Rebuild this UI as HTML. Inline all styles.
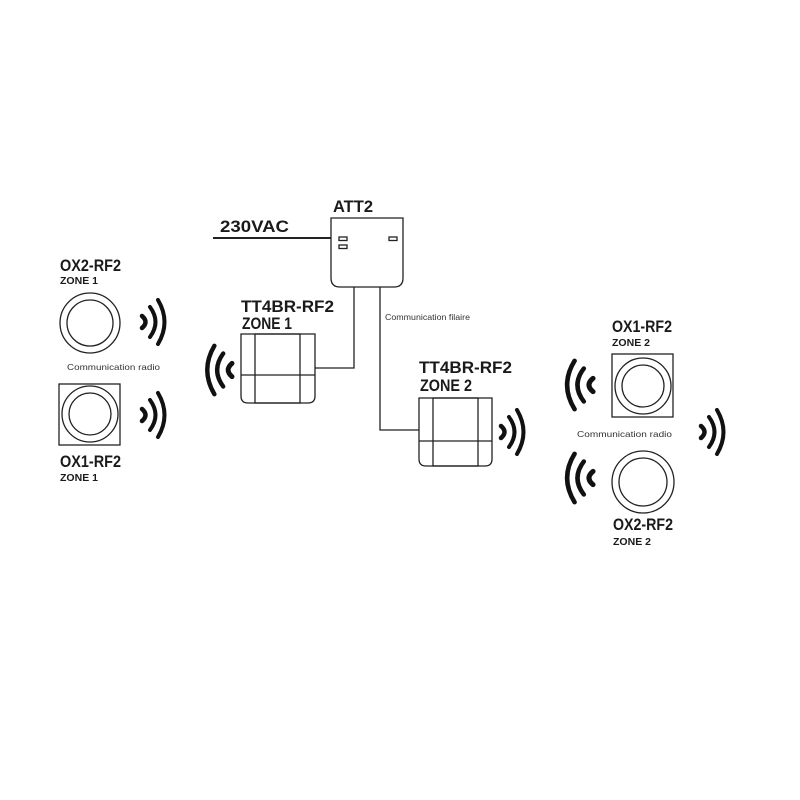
<!DOCTYPE html>
<html><head><meta charset="utf-8"><style>
html,body{margin:0;padding:0;background:#fff;width:800px;height:800px;overflow:hidden}
svg{display:block}
text{font-family:"Liberation Sans",sans-serif;fill:#1a1a1a}
.t{font-weight:bold;font-size:17px}
.z{font-weight:bold;font-size:10px}
.s{font-size:8.5px;fill:#333}
</style></head><body>
<svg width="800" height="800" viewBox="0 0 800 800" xmlns="http://www.w3.org/2000/svg">
<defs>
<g id="w" fill="none" stroke="#111" stroke-linecap="round">
<path d="M0,-6 Q7,0 0,6" stroke-width="4.5"/>
<path d="M8,-15 Q19,0 8,15" stroke-width="4"/>
<path d="M16,-22 Q29,0 16,22" stroke-width="4"/>
</g>
</defs>
<g fill="none" stroke="#222" stroke-width="1.3">
<!-- 230VAC line -->
<line x1="213" y1="238" x2="331" y2="238" stroke-width="2"/>
<!-- ATT2 box -->
<path d="M331,218 H403 V278 Q403,287 394,287 H340 Q331,287 331,278 Z"/>
<rect x="339" y="237" width="8" height="3.5"/>
<rect x="339" y="245" width="8" height="3.5"/>
<rect x="389" y="237" width="8" height="3.5"/>
<!-- wires -->
<polyline points="354,287 354,368 315,368"/>
<polyline points="380,287 380,430 419,430"/>
<!-- TT4BR zone1 -->
<path d="M241,334 H315 V396 Q315,403 308,403 H248 Q241,403 241,396 Z"/>
<rect x="255" y="334" width="45" height="69"/>
<line x1="241" y1="375" x2="315" y2="375"/>
<!-- TT4BR zone2 -->
<path d="M419,398 H492 V459 Q492,466 485,466 H426 Q419,466 419,459 Z"/>
<rect x="433" y="398" width="45" height="68"/>
<line x1="419" y1="441" x2="492" y2="441"/>
<!-- OX2 zone1 -->
<circle cx="90" cy="323" r="30"/><circle cx="90" cy="323" r="23"/>
<!-- OX1 zone1 -->
<rect x="59" y="384" width="61" height="61"/>
<circle cx="90" cy="414" r="28"/><circle cx="90" cy="414" r="21"/>
<!-- OX1 zone2 -->
<rect x="612" y="354" width="61" height="63"/>
<circle cx="643" cy="386" r="28"/><circle cx="643" cy="386" r="21"/>
<!-- OX2 zone2 -->
<circle cx="643" cy="482" r="31"/><circle cx="643" cy="482" r="24"/>
</g>
<!-- waves -->
<use href="#w" transform="translate(142,322)"/>
<use href="#w" transform="translate(142,415)"/>
<use href="#w" transform="translate(501,432)"/>
<use href="#w" transform="translate(701,432)"/>
<use href="#w" transform="translate(232,370) scale(-1.1,1.1)"/>
<use href="#w" transform="translate(593,385) scale(-1.15,1.1)"/>
<use href="#w" transform="translate(593,478) scale(-1.15,1.1)"/>
<!-- labels -->
<text class="t" x="220" y="232" font-size="18" textLength="69" lengthAdjust="spacingAndGlyphs">230VAC</text>
<text class="t" x="333" y="212" textLength="40" lengthAdjust="spacingAndGlyphs">ATT2</text>
<text class="t" x="241" y="312" textLength="93" lengthAdjust="spacingAndGlyphs">TT4BR-RF2</text>
<text class="t" x="242" y="329" font-size="13" textLength="50" lengthAdjust="spacingAndGlyphs">ZONE 1</text>
<text class="t" x="419" y="373" textLength="93" lengthAdjust="spacingAndGlyphs">TT4BR-RF2</text>
<text class="t" x="420" y="391" font-size="13" textLength="52" lengthAdjust="spacingAndGlyphs">ZONE 2</text>
<text class="t" x="60" y="271" font-size="15" textLength="61" lengthAdjust="spacingAndGlyphs">OX2-RF2</text>
<text class="z" x="60" y="284" textLength="38" lengthAdjust="spacingAndGlyphs">ZONE 1</text>
<text class="t" x="60" y="467" font-size="15" textLength="61" lengthAdjust="spacingAndGlyphs">OX1-RF2</text>
<text class="z" x="60" y="481" textLength="38" lengthAdjust="spacingAndGlyphs">ZONE 1</text>
<text class="t" x="612" y="332" font-size="15" textLength="60" lengthAdjust="spacingAndGlyphs">OX1-RF2</text>
<text class="z" x="612" y="346" textLength="38" lengthAdjust="spacingAndGlyphs">ZONE 2</text>
<text class="t" x="613" y="530" font-size="15" textLength="60" lengthAdjust="spacingAndGlyphs">OX2-RF2</text>
<text class="z" x="613" y="545" textLength="38" lengthAdjust="spacingAndGlyphs">ZONE 2</text>
<text class="s" x="67" y="370" textLength="93" lengthAdjust="spacingAndGlyphs">Communication radio</text>
<text class="s" x="577" y="437" textLength="95" lengthAdjust="spacingAndGlyphs">Communication radio</text>
<text class="s" x="385" y="320" textLength="85" lengthAdjust="spacingAndGlyphs">Communication filaire</text>
</svg>
</body></html>
